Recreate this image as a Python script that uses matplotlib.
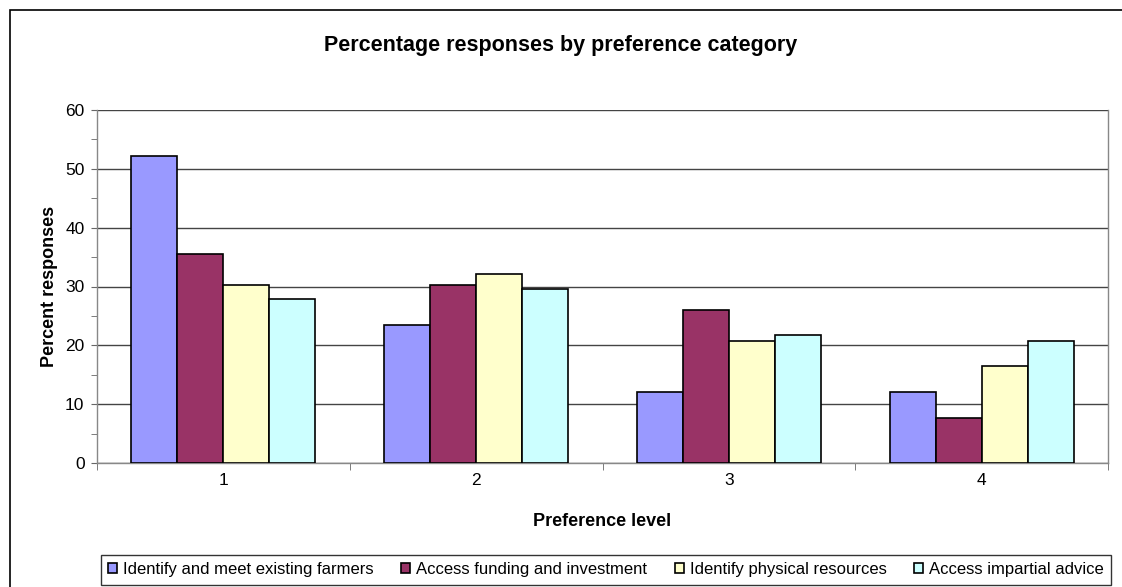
import matplotlib
matplotlib.use("Agg")
import matplotlib.pyplot as plt
import numpy as np
from matplotlib.patches import Rectangle

plt.rcParams['font.family'] = ['Liberation Sans', 'DejaVu Sans']

categories = ["1", "2", "3", "4"]
series_names = ["Identify and meet existing farmers", "Access funding and investment",
                "Identify physical resources", "Access impartial advice"]
farmers = [52.1, 23.4, 12.1, 12.1]
funding = [35.6, 30.3, 26.0, 7.7]
physical = [30.3, 32.2, 20.7, 16.5]
advice = [27.8, 29.5, 21.7, 20.8]
colors = ["#9999FF", "#993366", "#FFFFCC", "#CCFFFF"]

W, H = 1122, 587
fig = plt.figure(figsize=(W/100, H/100), dpi=100)
# outer chart border
fig.patches.append(Rectangle((10/W, -0.1), 1.2, (H-10)/H + 0.1, transform=fig.transFigure,
                             fill=False, edgecolor="black", linewidth=1.2))

ax = fig.add_axes([97/W, 1-463/H, (1108-97)/W, (463-110)/H])
x = np.arange(len(categories))
bw = 0.182
data = [farmers, funding, physical, advice]
for i, (vals, c, name) in enumerate(zip(data, colors, series_names)):
    ax.bar(x + (i - 1.5) * bw, vals, bw, color=c, edgecolor="black", linewidth=1.2,
           label=name, zorder=3)

ax.set_xlim(-0.5, 3.5)
ax.set_ylim(0, 60)
ax.set_yticks(range(0, 61, 10))
ax.set_yticks(range(0, 61, 5), minor=True)
ax.yaxis.grid(True, color="#444444", linewidth=1.0, zorder=0)
ax.set_xticks(x)
ax.set_xticklabels(categories)
ax.set_xticks(np.arange(-0.5, 3.6, 1), minor=True)
ax.tick_params(axis='x', which='major', length=0, labelsize=12.5, pad=7)
ax.tick_params(axis='x', which='minor', length=5, color="#666666", direction='out')
ax.tick_params(axis='y', which='both', length=4, color="#666666", labelsize=12.5,
               direction='out', pad=5)
for s in ax.spines.values():
    s.set_color("#888888")
    s.set_linewidth(1.0)
ax.spines['top'].set_visible(False)

ax.set_ylabel("Percent responses", fontsize=13, fontweight='bold', labelpad=5)
ax.set_xlabel("Preference level", fontsize=13, fontweight='bold', labelpad=18)
fig.text(0.5, 1-45/H, "Percentage responses by preference category", ha='center', va='center',
         fontsize=15.5, fontweight='bold')

handles, labels = ax.get_legend_handles_labels()
leg = fig.legend(handles, labels, loc='lower center', bbox_to_anchor=(606/W, -6/H), ncol=4,
                 fontsize=12, frameon=True, fancybox=False, edgecolor="black",
                 handlelength=0.55, handleheight=0.55, handletextpad=0.35, columnspacing=1.65,
                 borderpad=0.45, borderaxespad=0.5)
leg.get_frame().set_linewidth(1.0)

fig.savefig("out.png", dpi=100)
